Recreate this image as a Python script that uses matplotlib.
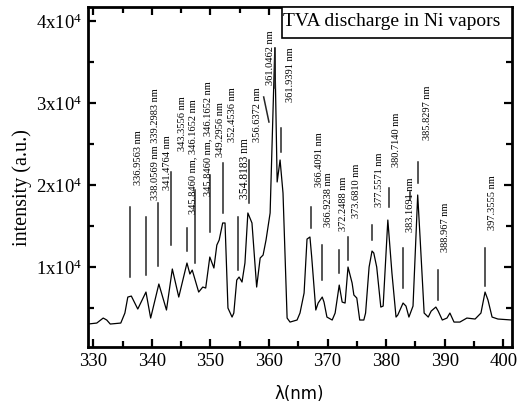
#!/usr/bin/env python

import numpy
import matplotlib
matplotlib.use('Agg')
import matplotlib.pyplot as plt
from matplotlib.ticker import MultipleLocator, FuncFormatter
from matplotlib.patches import Rectangle

# Emission spectrum, wavelength [nm] and intensity [a.u.]
wavelength = [329.1, 330.6, 331.7, 332.3, 332.9, 334.7, 335.4, 335.9, 336.5, 337.6,
              339.0, 339.8, 341.2, 342.5, 343.5, 344.6, 346.0, 346.5, 346.9, 348.0,
              348.7, 349.2, 349.9, 350.6, 351.1, 351.5, 352.1, 352.5, 353.0, 353.7,
              354.0, 354.5, 354.9, 355.4, 355.9, 356.4, 357.1, 357.9, 358.5, 359.0,
              359.5, 360.2, 361.0, 361.4, 361.9, 362.4, 363.1, 363.6, 364.8, 365.3,
              366.0, 366.5, 367.0, 367.3, 368.0, 368.4, 369.1, 369.4, 369.9, 370.8,
              371.3, 372.0, 372.5, 373.0, 373.5, 374.2, 374.5, 375.0, 375.5, 376.2,
              376.5, 377.1, 377.6, 377.9, 378.4, 379.1, 379.5, 380.3, 381.0, 381.7,
              382.0, 382.9, 383.4, 383.9, 384.6, 385.4, 385.8, 386.5, 387.2, 387.7,
              388.5, 388.9, 389.6, 390.4, 390.9, 391.6, 392.6, 393.8, 395.2, 396.2,
              396.9, 397.4, 398.1, 399.1, 401.5]
intensity = [3050, 3170, 3780, 3540, 3050, 3170, 4390, 6340, 6460, 4880,
             6950, 3780, 7930, 4760, 9760, 6340, 10490, 9150, 9630, 6950,
             7560, 7440, 11220, 9880, 12680, 13290, 15370, 15370, 5000, 3900,
             4390, 8410, 8780, 8170, 10490, 16590, 15370, 7560, 11100, 11460,
             13290, 16590, 36710, 20370, 23050, 19020, 3780, 3290, 3540, 4390,
             6830, 13410, 13660, 11220, 4760, 5610, 6340, 5730, 3900, 3540,
             4390, 7800, 5730, 5610, 10000, 8050, 6590, 6220, 3540, 3540,
             4390, 10000, 11950, 11710, 10000, 5120, 5240, 15730, 9270, 3900,
             4150, 5610, 5240, 3900, 5240, 18780, 13660, 4390, 3900, 4630,
             5120, 4630, 3540, 3780, 4390, 3290, 3290, 3780, 3660, 4390,
             6950, 5980, 3900, 3660, 3540]

# Line identifications: label text and where it sits
line_names = ['336.9563 nm', '338.0569 nm 339.2983 nm', '341.4764 nm', '343.3556 nm',
              '345.8460 nm, 346.1652 nm', '345.8460 nm, 346.1652 nm', '349.2956 nm',
              '352.4536 nm', '354.8183 nm', '356.6372 nm', '361.0462 nm', '361.9391 nm',
              '366.4091 nm', '366.9238 nm', '372.2488 nm', '373.6810 nm', '377.5571 nm',
              '380.7140 nm', '383.1691 nm', '385.8297 nm', '388.967 nm', '397.3555 nm']
name_x = [337.8, 340.7, 342.6, 345.2, 347.0, 349.6, 351.8, 353.7, 355.9, 358.1, 360.3,
          363.7, 368.7, 370.2, 372.8, 374.9, 378.8, 381.8, 384.1, 387.0, 390.2, 398.1]
name_y = [23350, 25000, 22680, 27440, 23400, 25700, 26700, 28540, 21950, 28540, 35490,
          33410, 23050, 18170, 17680, 19270, 20610, 25490, 17560, 28780, 14880, 17800]

# marker strokes: x at top, x at bottom, intensity at top and bottom
mark_x0 = [336.3, 339.0, 341.0, 343.3, 346.0, 347.4, 349.9, 352.1, 354.7, 356.6, 359.1,
           361.0, 362.0, 367.2, 369.1, 371.9, 373.5, 377.6, 380.5, 382.9, 385.4, 384.1,
           388.9, 396.9]
mark_x1 = [336.3, 339.0, 341.0, 343.3, 346.0, 347.4, 349.9, 352.1, 354.7, 356.6, 360.0,
           361.0, 362.0, 367.2, 369.1, 371.9, 373.5, 377.6, 380.5, 382.9, 385.4, 384.1,
           388.9, 396.9]
mark_top = [17320, 16100, 17800, 21590, 14760, 19390, 21220, 22680, 16100, 23050, 30730,
            36710, 26950, 17320, 12680, 12070, 13660, 15120, 19630, 12320, 22800, 19150,
            9630, 12320]
mark_bot = [8780, 9020, 10120, 12680, 11950, 10490, 14270, 16590, 9630, 17800, 27680,
            31830, 24020, 14760, 8410, 9270, 10850, 13290, 17320, 7440, 20240, 18170,
            5980, 7680]

plt.rcParams['font.family'] = 'Liberation Serif'
plt.rcParams['mathtext.fontset'] = 'custom'
plt.rcParams['mathtext.rm'] = 'Liberation Serif'

fig = plt.figure(figsize=(5.17, 4.08), dpi=100)
ax = fig.add_axes([0.1702, 0.1495, 0.8201, 0.8333])

ax.plot(wavelength, intensity, color='k', lw=0.9)
for x0, x1, y0, y1 in zip(mark_x0, mark_x1, mark_top, mark_bot):
  ax.plot([x0, x1], [y0, y1], color='0.15', lw=1.1)
for name, x, y in zip(line_names, name_x, name_y):
  fs = 8.3 if name == '354.8183 nm' else 7.5
  ax.text(x, y, name, rotation=90, ha='center', va='center', fontsize=fs)

ax.set_xlim(329.1, 401.5)
ax.set_ylim(250, 41700)
ax.xaxis.set_major_locator(MultipleLocator(10))
ax.xaxis.set_minor_locator(MultipleLocator(5))
ax.yaxis.set_major_locator(MultipleLocator(10000))
ax.yaxis.set_minor_locator(MultipleLocator(5000))
ax.yaxis.set_major_formatter(FuncFormatter(lambda v, p: r'%dx$\mathregular{10^{4}}$' % round(v/1e4)))
ax.tick_params(which='both', direction='in', top=True, right=True, width=1.6)
ax.tick_params(which='major', length=6, labelsize=13.5, pad=4)
ax.tick_params(which='minor', length=4)
for s in ax.spines.values(): s.set_linewidth(2)

ax.set_xlabel(r'λ(nm)', fontsize=12, family='DejaVu Sans')
ax.set_ylabel('intensity (a.u.)', fontsize=14.5)
ax.xaxis.set_label_coords(0.4976, -0.112)
ax.yaxis.set_label_coords(-0.132, 0.47)

# caption box in the upper right corner
ax.add_patch(Rectangle((0.4575, 0.9088), 0.5425, 0.0912, transform=ax.transAxes,
                       facecolor='white', edgecolor='k', lw=1.2, zorder=5))
ax.text(0.717, 0.956, 'TVA discharge in Ni vapors', transform=ax.transAxes,
        ha='center', va='center', fontsize=14, zorder=6)

plt.savefig('out.png', dpi=100)
